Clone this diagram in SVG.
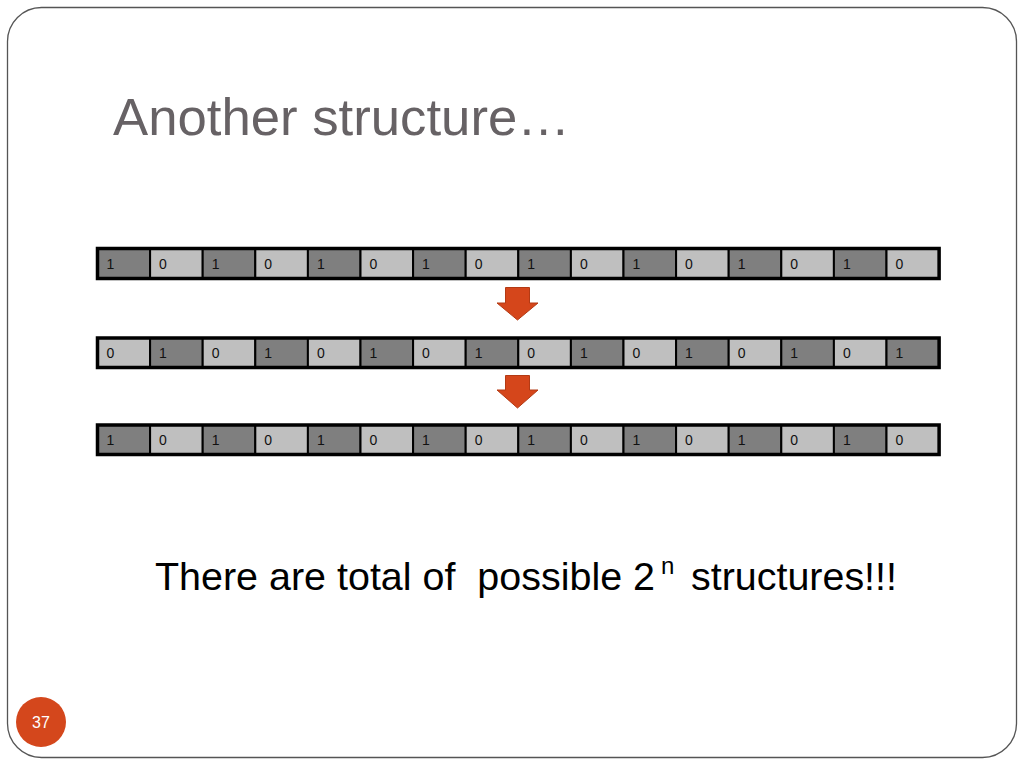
<svg xmlns="http://www.w3.org/2000/svg" width="1024" height="768" viewBox="0 0 1024 768">
<style>
.d{fill:#7f7f7f;stroke:#000;stroke-width:2}
.l{fill:#bfbfbf;stroke:#000;stroke-width:2}
.o{fill:none;stroke:#000;stroke-width:3.5}
.t{font-family:"Liberation Sans",Arial,sans-serif;font-size:14px;fill:#111}
.arrow{fill:#d5461b;stroke:#b33a14;stroke-width:1}
</style>
<rect width="1024" height="768" fill="#fff"/>
<rect x="7.5" y="7.5" width="1009" height="750" rx="34" fill="#fff" stroke="#555" stroke-width="1.3"/>
<text x="113" y="135" font-family="'Liberation Sans',Arial,sans-serif" font-size="52" fill="#676265" textLength="457" lengthAdjust="spacingAndGlyphs">Another structure…</text>

<g id="row1">
<rect class="d" x="97.5" y="248.5" width="52.6" height="30"/><text class="t" x="106.5" y="269">1</text>
<rect class="l" x="150.1" y="248.5" width="52.6" height="30"/><text class="t" x="159.1" y="269">0</text>
<rect class="d" x="202.7" y="248.5" width="52.6" height="30"/><text class="t" x="211.7" y="269">1</text>
<rect class="l" x="255.3" y="248.5" width="52.6" height="30"/><text class="t" x="264.3" y="269">0</text>
<rect class="d" x="307.9" y="248.5" width="52.6" height="30"/><text class="t" x="316.9" y="269">1</text>
<rect class="l" x="360.5" y="248.5" width="52.6" height="30"/><text class="t" x="369.5" y="269">0</text>
<rect class="d" x="413.1" y="248.5" width="52.6" height="30"/><text class="t" x="422.1" y="269">1</text>
<rect class="l" x="465.7" y="248.5" width="52.6" height="30"/><text class="t" x="474.7" y="269">0</text>
<rect class="d" x="518.3" y="248.5" width="52.6" height="30"/><text class="t" x="527.3" y="269">1</text>
<rect class="l" x="570.9" y="248.5" width="52.6" height="30"/><text class="t" x="579.9" y="269">0</text>
<rect class="d" x="623.5" y="248.5" width="52.6" height="30"/><text class="t" x="632.5" y="269">1</text>
<rect class="l" x="676.1" y="248.5" width="52.6" height="30"/><text class="t" x="685.1" y="269">0</text>
<rect class="d" x="728.7" y="248.5" width="52.6" height="30"/><text class="t" x="737.7" y="269">1</text>
<rect class="l" x="781.3" y="248.5" width="52.6" height="30"/><text class="t" x="790.3" y="269">0</text>
<rect class="d" x="833.9" y="248.5" width="52.6" height="30"/><text class="t" x="842.9" y="269">1</text>
<rect class="l" x="886.5" y="248.5" width="52.6" height="30"/><text class="t" x="895.5" y="269">0</text>
<rect class="o" x="97.5" y="248.5" width="841.6" height="30"/>
</g>

<g id="row2">
<rect class="l" x="97.5" y="338" width="52.6" height="29.5"/><text class="t" x="106.5" y="358">0</text>
<rect class="d" x="150.1" y="338" width="52.6" height="29.5"/><text class="t" x="159.1" y="358">1</text>
<rect class="l" x="202.7" y="338" width="52.6" height="29.5"/><text class="t" x="211.7" y="358">0</text>
<rect class="d" x="255.3" y="338" width="52.6" height="29.5"/><text class="t" x="264.3" y="358">1</text>
<rect class="l" x="307.9" y="338" width="52.6" height="29.5"/><text class="t" x="316.9" y="358">0</text>
<rect class="d" x="360.5" y="338" width="52.6" height="29.5"/><text class="t" x="369.5" y="358">1</text>
<rect class="l" x="413.1" y="338" width="52.6" height="29.5"/><text class="t" x="422.1" y="358">0</text>
<rect class="d" x="465.7" y="338" width="52.6" height="29.5"/><text class="t" x="474.7" y="358">1</text>
<rect class="l" x="518.3" y="338" width="52.6" height="29.5"/><text class="t" x="527.3" y="358">0</text>
<rect class="d" x="570.9" y="338" width="52.6" height="29.5"/><text class="t" x="579.9" y="358">1</text>
<rect class="l" x="623.5" y="338" width="52.6" height="29.5"/><text class="t" x="632.5" y="358">0</text>
<rect class="d" x="676.1" y="338" width="52.6" height="29.5"/><text class="t" x="685.1" y="358">1</text>
<rect class="l" x="728.7" y="338" width="52.6" height="29.5"/><text class="t" x="737.7" y="358">0</text>
<rect class="d" x="781.3" y="338" width="52.6" height="29.5"/><text class="t" x="790.3" y="358">1</text>
<rect class="l" x="833.9" y="338" width="52.6" height="29.5"/><text class="t" x="842.9" y="358">0</text>
<rect class="d" x="886.5" y="338" width="52.6" height="29.5"/><text class="t" x="895.5" y="358">1</text>
<rect class="o" x="97.5" y="338" width="841.6" height="29.5"/>
</g>

<g id="row3">
<rect class="d" x="97.5" y="425" width="52.6" height="29.5"/><text class="t" x="106.5" y="445">1</text>
<rect class="l" x="150.1" y="425" width="52.6" height="29.5"/><text class="t" x="159.1" y="445">0</text>
<rect class="d" x="202.7" y="425" width="52.6" height="29.5"/><text class="t" x="211.7" y="445">1</text>
<rect class="l" x="255.3" y="425" width="52.6" height="29.5"/><text class="t" x="264.3" y="445">0</text>
<rect class="d" x="307.9" y="425" width="52.6" height="29.5"/><text class="t" x="316.9" y="445">1</text>
<rect class="l" x="360.5" y="425" width="52.6" height="29.5"/><text class="t" x="369.5" y="445">0</text>
<rect class="d" x="413.1" y="425" width="52.6" height="29.5"/><text class="t" x="422.1" y="445">1</text>
<rect class="l" x="465.7" y="425" width="52.6" height="29.5"/><text class="t" x="474.7" y="445">0</text>
<rect class="d" x="518.3" y="425" width="52.6" height="29.5"/><text class="t" x="527.3" y="445">1</text>
<rect class="l" x="570.9" y="425" width="52.6" height="29.5"/><text class="t" x="579.9" y="445">0</text>
<rect class="d" x="623.5" y="425" width="52.6" height="29.5"/><text class="t" x="632.5" y="445">1</text>
<rect class="l" x="676.1" y="425" width="52.6" height="29.5"/><text class="t" x="685.1" y="445">0</text>
<rect class="d" x="728.7" y="425" width="52.6" height="29.5"/><text class="t" x="737.7" y="445">1</text>
<rect class="l" x="781.3" y="425" width="52.6" height="29.5"/><text class="t" x="790.3" y="445">0</text>
<rect class="d" x="833.9" y="425" width="52.6" height="29.5"/><text class="t" x="842.9" y="445">1</text>
<rect class="l" x="886.5" y="425" width="52.6" height="29.5"/><text class="t" x="895.5" y="445">0</text>
<rect class="o" x="97.5" y="425" width="841.6" height="29.5"/>
</g>

<g id="connectors">
<polygon class="arrow" points="505.5,287.5 529.5,287.5 529.5,303 538,303 517.5,320 497,303 505.5,303"/>
<polygon class="arrow" points="505.5,375.5 529.5,375.5 529.5,390 538,390 517.5,408 497,390 505.5,390"/>
</g>

<g id="caption" font-family="'Liberation Sans',Arial,Helvetica,sans-serif" fill="#000">
<text x="155" y="590" font-size="39" textLength="500" lengthAdjust="spacingAndGlyphs" xml:space="preserve">There are total of  possible 2</text>
<text x="661" y="574" font-size="24">n</text>
<text x="691" y="590" font-size="39" textLength="206" lengthAdjust="spacingAndGlyphs">structures!!!</text>
</g>

<g id="pagenum">
<circle cx="41" cy="722" r="25" fill="#d4471c"/>
<text x="41" y="728" text-anchor="middle" font-family="'Liberation Sans',Arial,sans-serif" font-size="16" fill="#fff">37</text>
</g>
</svg>
